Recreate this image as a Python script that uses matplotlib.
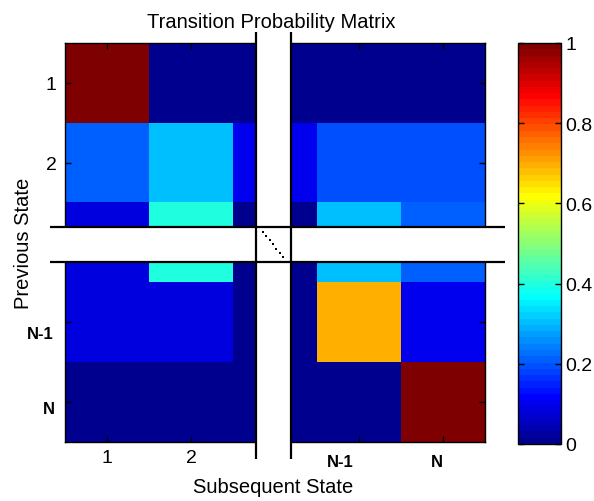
import numpy as np
import matplotlib
matplotlib.use("Agg")
import matplotlib.pyplot as plt
from matplotlib.colors import ListedColormap
from matplotlib.patches import Rectangle

plt.rcParams["font.family"] = ["Liberation Sans", "DejaVu Sans"]

# Transition probabilities (rows: previous state, cols: subsequent state).
# The middle state stands for the hidden block between 2 and N-1.
row_1 = [1.00, 0.00, 0.00, 0.00, 0.00]
row_2 = [0.21, 0.31, 0.10, 0.20, 0.20]
row_mid = [0.09, 0.395, 0.00, 0.31, 0.21]
row_n1 = [0.09, 0.09, 0.00, 0.695, 0.10]
row_n = [0.00, 0.00, 0.00, 0.00, 1.00]

tick_pos = [1, 2, 4, 5]
tick_labels = ["1", "2", "N-1", "N"]
cbar_ticks = [0, 0.2, 0.4, 0.6, 0.8, 1]
cbar_labels = ["0", "0.2", "0.4", "0.6", "0.8", "1"]

P = np.array([row_1, row_2, row_mid, row_n1, row_n])


def matlab_jet(m=64):
    # same construction as MATLAB's jet(m)
    n = int(np.ceil(m / 4))
    u = np.concatenate([np.arange(1, n + 1) / n, np.ones(n - 1),
                        np.arange(n, 0, -1) / n])
    g = int(np.ceil(n / 2)) - (m % 4 == 1) + np.arange(1, len(u) + 1)
    r = g + n
    b = g - n
    g = g[g <= m]
    r = r[r <= m]
    b = b[b >= 1]
    J = np.zeros((m, 3))
    J[r - 1, 0] = u[:len(r)]
    J[g - 1, 1] = u[:len(g)]
    J[b - 1, 2] = u[len(u) - len(b):]
    return ListedColormap(J)


W, H = 594, 502
fig = plt.figure(figsize=(W / 100, H / 100), dpi=100)
ax = fig.add_axes([65 / W, 59 / H, 420 / W, 399 / H])

im = ax.imshow(P, cmap=matlab_jet(64), vmin=0, vmax=1, aspect="auto",
               interpolation="nearest", extent=(0.5, 5.5, 5.5, 0.5))

ax.set_xlim(0.5, 5.5)
ax.set_ylim(5.5, 0.5)
for s in ax.spines.values():
    s.set_linewidth(1.0)

ax.set_xticks(tick_pos)
ax.set_yticks(tick_pos)
ax.set_xticklabels(tick_labels[:2] + ["", ""])
ax.set_yticklabels(tick_labels[:2] + ["", ""])
ax.tick_params(direction="in", length=4, width=1, top=True, right=True,
               labelsize=14)
ax.tick_params(axis="x", pad=5)
ax.tick_params(axis="y", pad=6)

# the N-side labels are set in bold, slightly off the tick
ax.text(tick_pos[2] - 0.22, 5.74, tick_labels[2], fontsize=12,
        fontweight="bold", ha="center", va="center", clip_on=False)
ax.text(tick_pos[3] - 0.07, 5.74, tick_labels[3], fontsize=12,
        fontweight="bold", ha="center", va="center", clip_on=False)
ax.text(0.36, tick_pos[2] + 0.14, tick_labels[2], fontsize=12,
        fontweight="bold", ha="right", va="center", clip_on=False)
ax.text(0.38, tick_pos[3] + 0.075, tick_labels[3], fontsize=12,
        fontweight="bold", ha="right", va="center", clip_on=False)

# break the matrix around the hidden middle block
gx0, gx1 = 2.774, 3.185
gy0, gy1 = 2.806, 3.244
ax.add_patch(Rectangle((gx0, 0.42), gx1 - gx0, 5.16, facecolor="white",
                       edgecolor="none", zorder=3, clip_on=False))
ax.add_patch(Rectangle((0.42, gy0), 5.16, gy1 - gy0, facecolor="white",
                       edgecolor="none", zorder=3, clip_on=False))
for x in (gx0, gx1):
    ax.plot([x, x], [0.36, 5.71], color="black", lw=1.6, zorder=4,
            clip_on=False, solid_capstyle="butt")
for y in (gy0, gy1):
    ax.plot([0.32, 5.74], [y, y], color="black", lw=1.6, zorder=4,
            clip_on=False, solid_capstyle="butt")
ax.plot(np.linspace(2.857, 3.095, 7), np.linspace(2.868, 3.182, 7),
        ls="none", marker="s", ms=1.6, mew=0, color="black", zorder=5,
        clip_on=False)

cax = fig.add_axes([518 / W, 57 / H, 43 / W, 401 / H])
cb = fig.colorbar(im, cax=cax, ticks=cbar_ticks)
cb.ax.set_yticklabels(cbar_labels)
cb.outline.set_linewidth(1.0)
cb.ax.tick_params(direction="in", length=4, width=1, left=True, right=True,
                  labelsize=14, pad=3)

fig.text(271.5 / W, 1 - 22 / H, "Transition Probability Matrix",
         fontsize=14.5, ha="center", va="center")
fig.text(273 / W, 1 - 488 / H, "Subsequent State", fontsize=14.5,
         ha="center", va="center")
fig.text(23.5 / W, 1 - 243.5 / H, "Previous State", fontsize=14.5,
         ha="center", va="center", rotation=90)

fig.savefig("out.png", dpi=100)
